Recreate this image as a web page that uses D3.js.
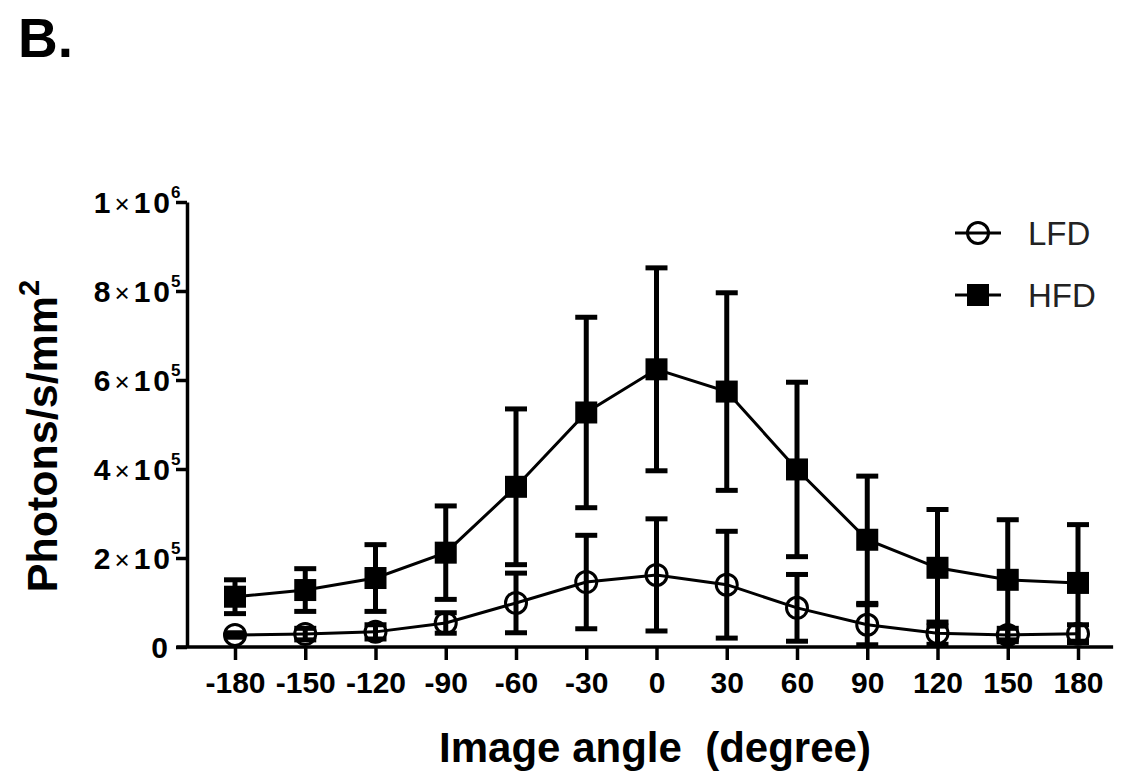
<!DOCTYPE html>
<html>
<head>
<meta charset="utf-8">
<script src="https://cdn.jsdelivr.net/npm/d3@7"></script>
<style>
body { margin: 0; background: #fff; }
text { font-family: "Liberation Sans", Arial, sans-serif; }
</style>
</head>
<body>
<div id="chart"></div>
<script>
// image angles (degree)
var angles = [-180, -150, -120, -90, -60, -30, 0, 30, 60, 90, 120, 150, 180];

// HFD mean and SD, photons/s/mm2
var hfdMean = [113000, 128000, 155000, 212000, 360000, 527000, 624000, 574000, 399000, 241000, 178000, 151000, 144000];
var hfdSD   = [38000, 48000, 75000, 105000, 175000, 214000, 228000, 222000, 196000, 143000, 131000, 135000, 131000];

// LFD mean and SD
var lfdMean = [27000, 29000, 34000, 54000, 99000, 146000, 162000, 140000, 88000, 50000, 31000, 27000, 30000];
var lfdSD   = [5000, 13000, 16000, 23000, 67000, 105000, 126000, 120000, 75000, 45000, 25000, 15000, 20000];

// tick labels
var xTicks = [-180, -150, -120, -90, -60, -30, 0, 30, 60, 90, 120, 150, 180];
var yTicks = [0, 200000, 400000, 600000, 800000, 1000000];
var yTickMant = ["0", "2", "4", "6", "8", "1"];
var yTickExp  = ["", "5", "5", "5", "5", "6"];

var seriesNames = ["LFD", "HFD"];

var svg = d3.select("#chart")
  .append("svg")
  .attr("width", 1127)
  .attr("height", 775);

var x = d3.scaleLinear().domain([-180, 180]).range([235, 1078]);
var y = d3.scaleLinear().domain([0, 1000000]).range([647, 202]);

// panel letter
svg.append("text")
  .attr("x", 18).attr("y", 57)
  .attr("font-size", 55).attr("font-weight", "bold")
  .text("B.");

// X axis
var xAxis = svg.append("g")
  .attr("transform", "translate(0," + y(0) + ")")
  .call(d3.axisBottom(x).tickValues(xTicks).tickSize(13).tickSizeOuter(0).tickPadding(12)
    .tickFormat(function(d) { return String(d); }));
xAxis.select(".domain").remove();
xAxis.append("line")
  .attr("x1", x(-205)).attr("x2", x(195))
  .attr("stroke", "#000").attr("stroke-width", 3.5);
xAxis.selectAll(".tick line").attr("stroke", "#000").attr("stroke-width", 3.5);
xAxis.selectAll(".tick text")
  .attr("fill", "#000")
  .attr("font-family", "Liberation Sans, Arial, sans-serif")
  .attr("font-size", 30).attr("font-weight", "bold");

// Y axis
var yAxis = svg.append("g")
  .attr("transform", "translate(187,0)")
  .call(d3.axisLeft(y).tickValues(yTicks).tickSize(11).tickSizeOuter(0).tickFormat(""));
yAxis.select(".domain").attr("stroke", "#000").attr("stroke-width", 3.5);
yAxis.selectAll(".tick line").attr("stroke", "#000").attr("stroke-width", 3.5);

yAxis.selectAll(".tick").each(function(d, i) {
  var g = d3.select(this);
  var t = g.append("text")
    .attr("x", yTickExp[i] ? -17 : -19)
    .attr("y", 10)
    .attr("text-anchor", "end")
    .attr("fill", "#000")
    .attr("font-family", "Liberation Sans, Arial, sans-serif")
    .attr("font-size", 30).attr("font-weight", "bold");
  if (yTickExp[i]) {
    t.append("tspan").text(yTickMant[i]);
    t.append("tspan").attr("font-size", 26).attr("font-weight", "normal").attr("dx", 4).text("\u00d7");
    t.append("tspan").attr("dx", 4).attr("letter-spacing", 3).text("1");
    t.append("tspan").text("0");
    g.append("text")
      .attr("x", -16).attr("y", -5)
      .attr("text-anchor", "start")
      .attr("fill", "#000")
      .attr("font-family", "Liberation Sans, Arial, sans-serif")
      .attr("font-size", 17).attr("font-weight", "bold")
      .text(yTickExp[i]);
  } else {
    t.text(yTickMant[i]);
  }
});

// axis titles
var yTitle = svg.append("text")
  .attr("transform", "translate(57,436) rotate(-90)")
  .attr("text-anchor", "middle")
  .attr("font-size", 43).attr("font-weight", "bold");
yTitle.append("tspan").text("Photons/s/mm");
yTitle.append("tspan").attr("dy", -18).attr("font-size", 29).text("2");

svg.append("text")
  .attr("x", 655).attr("y", 762)
  .attr("text-anchor", "middle")
  .style("white-space", "pre")
  .attr("font-size", 42).attr("font-weight", "bold")
  .text("Image angle  (degree)");

// build series rows
function rows(mean, sd) {
  return angles.map(function(a, i) { return {angle: a, mean: mean[i], sd: sd[i]}; });
}
var lfd = rows(lfdMean, lfdSD);
var hfd = rows(hfdMean, hfdSD);

var line = d3.line()
  .x(function(d) { return x(d.angle); })
  .y(function(d) { return y(d.mean); });

[hfd, lfd].forEach(function(data) {
  svg.append("path")
    .datum(data)
    .attr("d", line)
    .attr("fill", "none")
    .attr("stroke", "#000")
    .attr("stroke-width", 3);
});

// error bars
function errorBars(data) {
  var g = svg.append("g");
  var e = g.selectAll("g").data(data).enter().append("g");
  e.append("line")
    .attr("x1", function(d) { return x(d.angle); })
    .attr("x2", function(d) { return x(d.angle); })
    .attr("y1", function(d) { return y(Math.max(0, d.mean - d.sd)); })
    .attr("y2", function(d) { return y(d.mean + d.sd); })
    .attr("stroke", "#000").attr("stroke-width", 5);
  [1, -1].forEach(function(s) {
    e.append("line")
      .attr("x1", function(d) { return x(d.angle) - 11; })
      .attr("x2", function(d) { return x(d.angle) + 11; })
      .attr("y1", function(d) { return y(Math.max(0, d.mean + s * d.sd)); })
      .attr("y2", function(d) { return y(Math.max(0, d.mean + s * d.sd)); })
      .attr("stroke", "#000").attr("stroke-width", 5);
  });
}
errorBars(hfd);
errorBars(lfd);

// markers
svg.append("g").selectAll("rect")
  .data(hfd).enter().append("rect")
  .attr("x", function(d) { return x(d.angle) - 11; })
  .attr("y", function(d) { return y(d.mean) - 11; })
  .attr("width", 22).attr("height", 22)
  .attr("fill", "#000");

svg.append("g").selectAll("circle")
  .data(lfd).enter().append("circle")
  .attr("cx", function(d) { return x(d.angle); })
  .attr("cy", function(d) { return y(d.mean); })
  .attr("r", 10.5)
  .attr("fill", "none")
  .attr("stroke", "#000").attr("stroke-width", 3);

// legend
var legend = svg.append("g").selectAll("g")
  .data(seriesNames).enter().append("g")
  .attr("transform", function(d, i) { return "translate(978," + (233 + i * 62) + ")"; });
legend.append("line")
  .attr("x1", -23).attr("x2", 23)
  .attr("stroke", "#000").attr("stroke-width", 3);
legend.filter(function(d) { return d === "LFD"; }).append("circle")
  .attr("r", 10.5).attr("fill", "none")
  .attr("stroke", "#000").attr("stroke-width", 3);
legend.filter(function(d) { return d === "HFD"; }).append("rect")
  .attr("x", -11).attr("y", -11).attr("width", 22).attr("height", 22)
  .attr("fill", "#000");
legend.append("text")
  .attr("x", 50).attr("y", 12)
  .attr("font-size", 33)
  .attr("fill", "#222")
  .text(function(d) { return d; });
</script>
</body>
</html>
